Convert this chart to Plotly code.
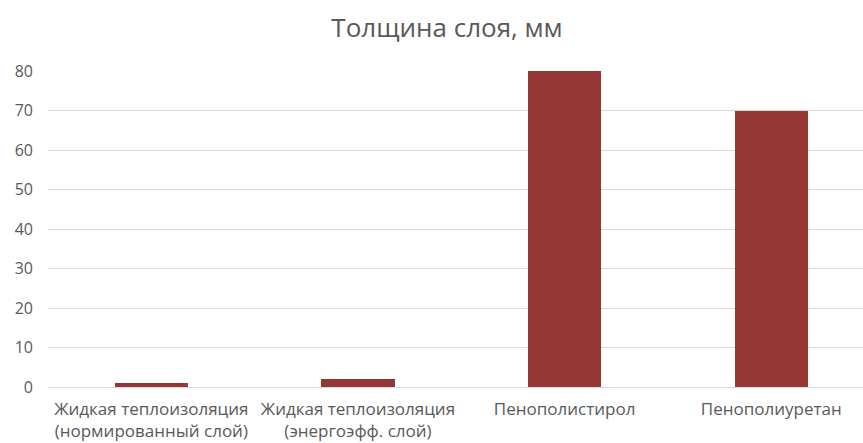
import plotly.graph_objects as go

# Layer thickness by insulation material
categories = [
    "Жидкая теплоизоляция<br>(нормированный слой)",
    "Жидкая теплоизоляция<br>(энергоэфф. слой)",
    "Пенополистирол",
    "Пенополиуретан",
]
thickness_mm = [1, 2, 80, 70]
y_ticks = [0, 10, 20, 30, 40, 50, 60, 70, 80]

BAR_COLOR = "#953735"
TEXT_COLOR = "#595959"
GRID_COLOR = "#d9d9d9"
FONT = "Open Sans, Noto Sans, sans-serif"

fig = go.Figure(
    go.Bar(
        x=list(range(len(categories))),
        y=thickness_mm,
        width=0.354,
        marker=dict(color=BAR_COLOR, line=dict(width=0)),
        hoverinfo="skip",
    )
)

fig.update_layout(
    width=863,
    height=443,
    margin=dict(l=48, r=0, t=71, b=56),
    paper_bgcolor="white",
    plot_bgcolor="white",
    showlegend=False,
    font=dict(family=FONT, color=TEXT_COLOR),
    title=dict(
        text="Толщина слоя, мм",
        x=0.4896,
        xref="paper",
        xanchor="center",
        y=0.938,
        yref="container",
        yanchor="middle",
        font=dict(family=FONT, size=26, color=TEXT_COLOR),
    ),
    bargap=0.0,
)

fig.update_xaxes(
    tickmode="array",
    tickvals=list(range(len(categories))),
    ticktext=categories,
    range=[-0.5, 3.444],
    showgrid=False,
    zeroline=False,
    showline=False,
    ticks="",
    tickfont=dict(family=FONT, size=17, color=TEXT_COLOR),
    ticklabelstandoff=10,
    tickangle=0,
    automargin=False,
    fixedrange=True,
)

fig.update_yaxes(
    range=[0, 80],
    tickmode="array",
    tickvals=y_ticks,
    showgrid=True,
    gridcolor=GRID_COLOR,
    gridwidth=1,
    zeroline=True,
    zerolinecolor=GRID_COLOR,
    zerolinewidth=1,
    showline=False,
    ticks="",
    tickfont=dict(family=FONT, size=16, color=TEXT_COLOR),
    ticklabelstandoff=14,
    automargin=False,
    fixedrange=True,
)

fig.write_html("out.html")
